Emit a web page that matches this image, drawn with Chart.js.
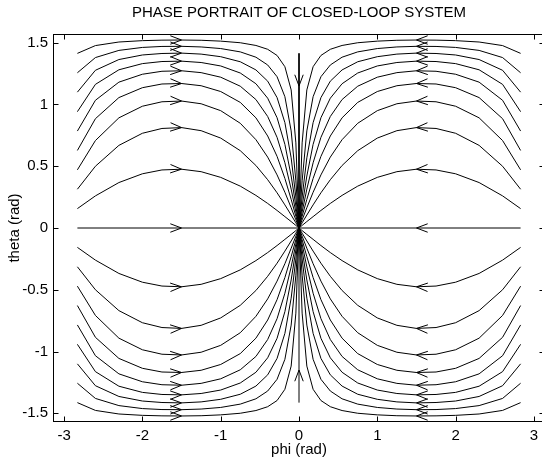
<!DOCTYPE html>
<html>
<head>
<meta charset="utf-8">
<script src="https://cdn.jsdelivr.net/npm/chart.js@4.4.0/dist/chart.umd.min.js"></script>
<style>
  html, body { margin: 0; padding: 0; overflow: hidden; background: #fff; }
  canvas { display: block; }
</style>
</head>
<body>
<canvas id="chart" width="545" height="460"></canvas>
<script>
/* ===== Phase portrait of closed-loop system — Chart.js ===== */

// phi samples along each trajectory (left half, from the start point to the origin)
const phiSteps = [-2.83, -2.6, -2.3, -2.0, -1.75, -1.5, -1.25, -1.0, -0.75, -0.55, -0.4, -0.28, -0.18, -0.1, -0.04, 0];

// theta along the upper-left trajectories, lowest to highest
const theta1 = [0.157, 0.260, 0.368, 0.439, 0.470, 0.476, 0.456, 0.410, 0.339, 0.264, 0.199, 0.142, 0.092, 0.052, 0.021, 0];
const theta2 = [0.314, 0.500, 0.669, 0.767, 0.806, 0.813, 0.788, 0.728, 0.626, 0.506, 0.391, 0.285, 0.187, 0.105, 0.042, 0];
const theta3 = [0.471, 0.708, 0.892, 0.986, 1.022, 1.028, 1.006, 0.950, 0.848, 0.715, 0.574, 0.430, 0.289, 0.164, 0.066, 0];
const theta4 = [0.628, 0.885, 1.056, 1.136, 1.166, 1.170, 1.152, 1.105, 1.017, 0.892, 0.745, 0.580, 0.401, 0.232, 0.095, 0];
const theta5 = [0.785, 1.034, 1.181, 1.245, 1.269, 1.273, 1.258, 1.221, 1.148, 1.040, 0.903, 0.734, 0.528, 0.315, 0.130, 0];
const theta6 = [0.942, 1.163, 1.281, 1.331, 1.348, 1.351, 1.340, 1.312, 1.255, 1.168, 1.051, 0.893, 0.677, 0.421, 0.178, 0];
const theta7 = [1.100, 1.277, 1.364, 1.401, 1.413, 1.416, 1.408, 1.387, 1.346, 1.280, 1.189, 1.056, 0.853, 0.568, 0.251, 0];
const theta8 = [1.257, 1.380, 1.438, 1.462, 1.470, 1.471, 1.466, 1.453, 1.426, 1.383, 1.320, 1.225, 1.063, 0.786, 0.382, 0];
const theta9 = [1.414, 1.477, 1.506, 1.517, 1.521, 1.522, 1.520, 1.513, 1.500, 1.478, 1.447, 1.397, 1.306, 1.118, 0.689, 0];
const arrowStep = 5; // arrow sits at phi = -1.5

// straight trajectories along the axes
const axisPhi = [-2.83, -1.5, 0];    // theta = 0
const axisTheta = [1.414, 1.15, 0];  // phi = 0

const phiTicks = [-3, -2, -1, 0, 1, 2, 3];
const thetaTicks = [-1.5, -1, -0.5, 0, 0.5, 1, 1.5];

const FONT = { family: "'Liberation Sans', Arial, Helvetica, sans-serif", size: 15, weight: 'normal' };

// Build datasets (the portrait is symmetric in phi and theta)
const datasets = [];
function addTrack(xs, ys, arrowAt) {
    datasets.push({
        data: xs.map((x, i) => ({ x: x, y: ys[i] })),
        arrowAt: arrowAt,
        showLine: true,
        borderColor: '#000',
        borderWidth: 1,
        pointRadius: 0,
        tension: 0,
        fill: false
    });
}

[theta1, theta2, theta3, theta4, theta5, theta6, theta7, theta8, theta9].forEach(th => {
    const mirPhi = phiSteps.map(p => -p);
    const negTh = th.map(t => -t);
    addTrack(phiSteps, th, arrowStep);
    addTrack(mirPhi, th, arrowStep);
    addTrack(phiSteps, negTh, arrowStep);
    addTrack(mirPhi, negTh, arrowStep);
});
const zeros = axisPhi.map(() => 0);
addTrack(axisPhi, zeros, 1);
addTrack(axisPhi.map(p => -p), zeros, 1);
addTrack(zeros, axisTheta, 1);
addTrack(zeros, axisTheta.map(t => -t), 1);

// Open arrowheads along each trajectory
const arrowPlugin = {
    id: 'arrows',
    afterDatasetsDraw(chart) {
        const { ctx, scales: { x, y } } = chart;
        ctx.save();
        ctx.strokeStyle = '#000';
        ctx.lineWidth = 1;
        chart.data.datasets.forEach(ds => {
            const i = ds.arrowAt;
            const tip = ds.data[i], a = ds.data[i - 1], b = ds.data[i + 1];
            const tx = x.getPixelForValue(tip.x), ty = y.getPixelForValue(tip.y);
            const ang = Math.atan2(
                y.getPixelForValue(b.y) - y.getPixelForValue(a.y),
                x.getPixelForValue(b.x) - x.getPixelForValue(a.x)
            );
            const len = 12, spread = 0.36;
            ctx.beginPath();
            ctx.moveTo(tx - len * Math.cos(ang - spread), ty - len * Math.sin(ang - spread));
            ctx.lineTo(tx, ty);
            ctx.lineTo(tx - len * Math.cos(ang + spread), ty - len * Math.sin(ang + spread));
            ctx.stroke();
        });
        ctx.restore();
    }
};

// MATLAB style box with inward ticks on all four sides
const boxPlugin = {
    id: 'box',
    afterDraw(chart) {
        const { ctx, chartArea: a, scales: { x, y } } = chart;
        const L = a.left + 0.5, R = a.right - 0.5, T = a.top + 0.5, B = a.bottom - 0.5;
        ctx.save();
        ctx.strokeStyle = '#000';
        ctx.lineWidth = 1;
        ctx.strokeRect(L, T, R - L, B - T);
        ctx.beginPath();
        x.ticks.forEach(t => {
            const px = Math.round(x.getPixelForValue(t.value)) + 0.5;
            ctx.moveTo(px, B); ctx.lineTo(px, B - 5);
            ctx.moveTo(px, T); ctx.lineTo(px, T + 5);
        });
        y.ticks.forEach(t => {
            const py = Math.round(y.getPixelForValue(t.value)) + 0.5;
            ctx.moveTo(L, py); ctx.lineTo(L + 5, py);
            ctx.moveTo(R, py); ctx.lineTo(R - 5, py);
        });
        ctx.stroke();
        ctx.restore();
    }
};

new Chart(document.getElementById('chart').getContext('2d'), {
    type: 'scatter',
    data: { datasets: datasets },
    plugins: [arrowPlugin, boxPlugin],
    options: {
        responsive: false,
        animation: false,
        devicePixelRatio: 1,
        layout: { padding: 0 },
        plugins: {
            legend: { display: false },
            tooltip: { enabled: false },
            title: {
                display: true,
                text: 'PHASE PORTRAIT OF CLOSED-LOOP SYSTEM',
                fullSize: false,
                color: '#000',
                font: FONT,
                padding: { top: 4, bottom: 12 }
            }
        },
        scales: {
            x: {
                type: 'linear',
                min: -Math.PI,
                max: Math.PI,
                afterBuildTicks: s => { s.ticks = phiTicks.map(v => ({ value: v })); },
                afterFit: s => { s.height = 38; },
                grid: { display: false, drawTicks: false },
                border: { display: false },
                ticks: { color: '#000', font: FONT, padding: 5, maxRotation: 0, autoSkip: false, callback: v => String(v) },
                title: { display: true, text: 'phi (rad)', color: '#000', font: FONT, padding: { top: 0, bottom: 1 } }
            },
            y: {
                type: 'linear',
                min: -Math.PI / 2,
                max: Math.PI / 2,
                afterBuildTicks: s => { s.ticks = thetaTicks.map(v => ({ value: v })); },
                afterFit: s => { s.width = 53; },
                grid: { display: false, drawTicks: false },
                border: { display: false },
                ticks: { color: '#000', font: FONT, padding: 5, autoSkip: false, callback: v => String(v) },
                title: { display: true, text: 'theta (rad)', color: '#000', font: FONT, padding: { top: 6, bottom: 0 } }
            }
        }
    }
});
</script>
</body>
</html>
